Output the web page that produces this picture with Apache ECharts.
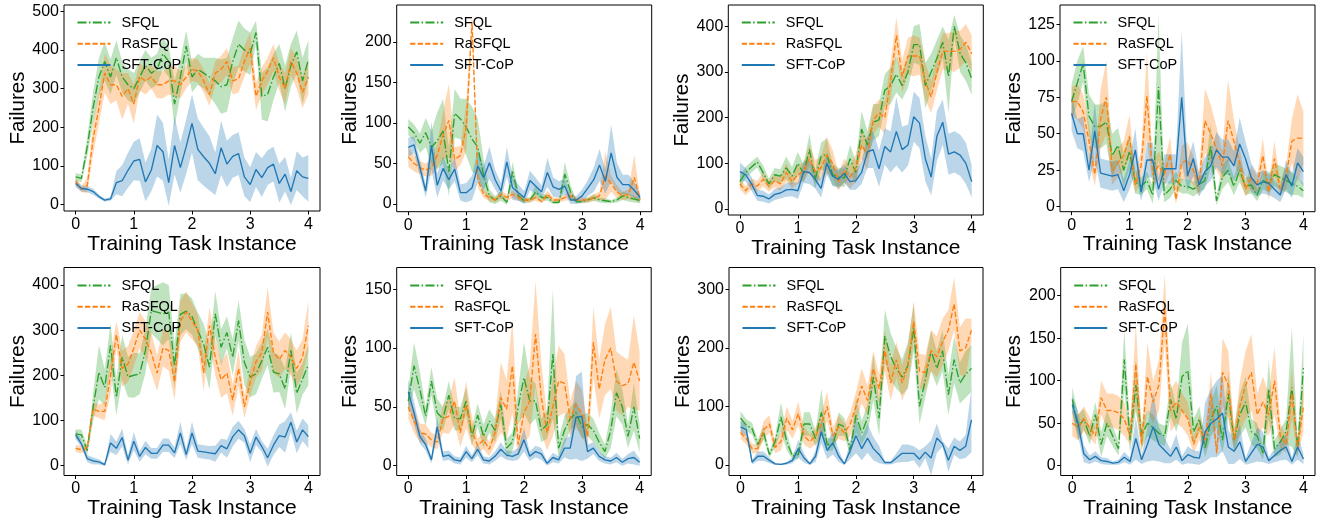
<!DOCTYPE html>
<html>
<head>
<meta charset="utf-8">
<script src="https://cdn.jsdelivr.net/npm/echarts@6/dist/echarts.min.js"></script>
<style>
html,body{margin:0;padding:0;background:#fff;}
#chart{width:1323px;height:522px;}
</style>
</head>
<body>
<div id="chart"></div>
<script>
// ---------- DATA ----------
const xValues = [0,0.1,0.2,0.3,0.4,0.5,0.6,0.7,0.8,0.9,1,1.1,1.2,1.3,1.4,1.5,1.6,1.7,1.8,1.9,2,2.1,2.2,2.3,2.4,2.5,2.6,2.7,2.8,2.9,3,3.1,3.2,3.3,3.4,3.5,3.6,3.7,3.8,3.9,4];
const xTicks = [0,1,2,3,4];
const seriesNames = ['SFQL','RaSFQL','SFT-CoP'];

// Panel 1
const p1Sfql   = [72,68,150,250,330,370,330,380,330,310,300,330,360,340,350,390,370,260,330,410,330,350,340,330,320,305,310,370,415,400,390,445,280,285,330,365,300,360,395,320,375];
const p1SfqlSd = [10,10,25,40,50,50,45,45,40,40,40,40,40,40,40,40,40,60,45,40,40,40,40,50,60,70,70,60,60,55,55,30,60,70,60,50,60,55,55,60,50];
const p1Ra     = [60,40,50,170,250,340,310,310,280,300,260,330,320,330,310,310,320,320,310,330,350,345,320,285,340,350,370,320,325,370,405,280,320,345,380,330,300,370,340,290,330];
const p1RaSd   = [10,8,20,40,40,50,50,40,60,40,50,35,35,30,35,35,35,40,35,30,30,30,30,30,30,35,35,35,35,40,40,35,35,35,35,35,40,35,40,40,45];
const p1Sft    = [55,42,40,34,21,12,15,57,62,89,113,117,59,89,153,137,57,153,96,150,210,143,124,107,80,147,105,125,132,72,52,91,70,96,105,55,79,34,88,72,68];
const p1SftSd  = [10,8,8,8,5,4,5,30,40,45,50,55,50,55,80,75,60,75,65,70,75,80,75,70,55,70,60,55,55,50,45,45,50,45,45,50,45,35,50,50,60];
const p1YTicks = [0,100,200,300,400,500];

// Panel 2
const p2Sfql   = [95,88,75,88,70,78,90,40,112,105,95,80,70,35,10,5,10,2,40,10,4,5,15,8,8,2,2,37,15,3,3,5,8,5,4,3,5,10,8,6,4];
const p2SfqlSd = [10,10,12,18,20,35,40,30,30,25,35,40,35,20,8,5,6,3,12,5,3,3,8,4,4,2,2,15,8,2,2,3,4,3,3,2,3,5,5,4,3];
const p2Ra     = [58,50,45,42,45,60,85,103,55,60,95,225,30,12,8,5,12,8,12,8,5,5,8,3,12,5,5,8,10,5,5,5,8,10,35,25,15,10,12,33,5];
const p2RaSd   = [12,10,8,8,10,15,30,45,15,12,30,10,10,5,4,3,5,4,5,4,3,3,4,2,5,3,3,4,5,3,3,3,4,5,30,10,8,5,6,28,3];
const p2Sft    = [70,73,45,16,72,23,44,30,43,14,14,20,47,32,51,30,16,52,20,14,8,29,22,15,39,21,18,22,5,5,10,20,30,48,28,63,33,24,24,17,8];
const p2SftSd  = [12,10,10,8,30,15,15,12,15,10,12,15,20,15,20,12,10,18,15,10,8,12,10,8,18,12,10,10,5,5,8,10,15,20,15,35,18,12,12,10,5];
const p2YTicks = [0,50,100,150,200];

// Panel 3
const p3Sfql   = [60,80,92,103,80,55,75,72,90,72,100,78,130,65,115,120,75,70,68,110,80,175,140,190,195,260,270,295,270,300,360,360,270,300,330,365,290,400,340,320,285];
const p3SfqlSd = [15,12,12,12,15,12,15,15,25,20,25,20,35,20,30,35,25,20,20,30,25,40,30,40,35,35,40,40,30,35,40,45,50,40,40,35,80,25,40,40,35];
const p3Ra     = [55,40,55,50,65,50,62,55,80,60,75,82,110,82,90,118,100,60,85,70,90,140,120,195,210,200,280,380,290,335,335,335,280,245,300,345,345,345,350,365,340];
const p3RaSd   = [12,10,12,12,15,12,15,15,20,15,20,20,30,25,25,40,30,20,25,25,30,30,35,30,30,35,40,40,35,40,45,40,40,35,40,40,40,45,40,40,40];
const p3Sft    = [82,75,55,30,28,22,32,35,42,43,40,82,80,65,45,100,72,65,78,60,62,80,125,130,88,137,125,170,130,140,202,188,110,70,160,190,120,125,118,100,60];
const p3SftSd  = [20,15,15,12,12,10,12,12,15,15,18,25,25,20,20,25,20,20,20,18,20,25,35,40,40,40,45,75,50,45,55,55,50,40,55,50,45,45,45,45,35];
const p3YTicks = [0,100,200,300,400];

// Panel 4
const p4Sfql   = [72,85,98,62,55,55,58,35,42,25,38,17,14,18,8,82,8,12,18,14,14,12,15,18,42,4,20,25,14,25,14,15,8,18,16,22,20,18,16,14,11];
const p4SfqlSd = [12,15,12,15,15,15,15,15,12,12,12,8,6,6,6,50,5,6,6,5,5,5,5,6,15,3,8,8,6,8,6,6,4,6,6,8,8,8,8,6,5];
const p4Ra     = [72,72,65,45,22,60,75,25,30,35,48,15,28,76,22,28,22,36,5,30,32,25,15,59,50,40,28,59,45,30,12,20,15,35,10,33,12,20,45,47,47];
const p4RaSd   = [10,12,12,12,8,20,25,10,10,10,15,6,10,30,8,10,8,12,3,12,12,10,8,22,20,15,10,28,15,10,5,8,6,12,5,12,5,8,15,30,18];
const p4Sft    = [64,50,50,25,52,23,22,21,22,11,22,39,10,32,32,12,26,26,26,75,21,33,15,24,28,39,34,34,28,43,33,20,15,17,16,12,8,22,14,30,24];
const p4SftSd  = [12,10,12,8,20,10,10,10,10,8,10,15,6,12,12,8,10,10,10,45,10,12,8,10,10,12,12,12,10,18,12,10,8,8,8,6,5,10,8,10,10];
const p4YTicks = [0,25,50,75,100,125];

// Panel 5
const p5Sfql   = [70,68,33,129,207,173,266,151,240,196,200,203,255,343,340,336,340,220,335,342,330,299,269,218,336,262,295,240,321,229,196,203,232,262,207,203,170,255,160,192,223];
const p5SfqlSd = [10,12,10,30,60,40,50,40,50,45,50,45,50,50,60,70,60,50,45,40,40,40,45,50,50,40,35,40,45,50,45,45,40,40,45,40,45,40,45,35,45];
const p5Ra     = [38,35,40,125,120,120,200,290,215,225,260,300,280,250,205,260,255,185,320,340,320,300,205,310,240,190,205,145,215,130,185,230,250,340,250,235,255,240,215,240,310];
const p5RaSd   = [8,8,8,15,15,20,40,30,40,40,40,40,40,45,40,40,45,40,45,45,40,35,40,40,40,40,45,35,40,25,30,35,40,55,45,40,40,40,40,40,55];
const p5Sft    = [68,48,15,10,8,2,50,38,62,12,54,20,40,27,27,45,45,28,72,24,72,32,30,28,26,44,37,64,79,66,27,63,42,17,45,66,63,96,52,79,64];
const p5SftSd  = [10,8,8,8,6,3,20,15,20,10,20,12,15,12,12,15,15,12,25,12,25,15,15,15,18,15,20,22,20,15,20,18,12,20,22,25,35,22,25,25,25];
const p5YTicks = [0,100,200,300,400];

// Panel 6
const p6Sfql   = [55,85,65,42,72,45,40,60,40,40,55,25,43,25,38,30,52,15,20,50,75,55,55,30,35,95,15,30,40,45,33,35,30,20,12,30,62,50,25,50,23];
const p6SfqlSd = [10,20,15,8,12,12,10,12,10,10,12,8,10,10,10,10,12,8,8,15,30,20,15,10,12,55,8,12,10,10,10,10,10,8,6,15,20,15,10,20,12];
const p6Ra     = [50,38,28,27,22,20,40,42,55,28,52,30,17,22,14,28,58,48,85,18,45,55,112,58,28,50,72,70,40,52,45,25,105,65,90,100,72,68,70,88,72];
const p6RaSd   = [10,10,8,8,6,6,12,15,20,12,20,12,6,8,6,10,30,25,40,10,25,30,45,30,15,25,30,25,15,20,20,10,30,25,30,35,25,25,20,40,25];
const p6Sft    = [63,45,25,18,5,33,8,9,5,4,12,6,14,5,4,8,14,9,8,10,22,8,12,10,2,7,5,15,15,41,42,12,15,8,5,4,7,3,6,7,3];
const p6SftSd  = [10,10,6,5,3,8,4,4,3,3,5,3,5,3,3,4,6,4,4,5,10,4,5,5,2,4,3,8,10,35,38,6,5,4,3,3,4,3,4,6,3];
const p6YTicks = [0,50,100,150];

// Panel 7
const p7Sfql   = [80,68,62,35,55,18,40,82,40,15,18,70,70,45,90,35,35,70,65,25,85,55,80,150,80,220,185,165,150,170,235,100,145,195,165,195,120,180,140,155,165];
const p7SfqlSd = [12,10,10,8,12,5,10,25,15,5,8,20,20,12,40,12,10,20,15,10,30,20,25,40,30,45,40,35,30,40,40,30,30,35,30,35,35,40,35,40,40];
const p7Ra     = [55,45,28,28,60,70,30,40,80,60,88,50,40,50,70,100,50,65,55,70,100,135,110,165,130,195,140,180,140,170,245,160,158,195,185,210,230,275,195,200,230];
const p7RaSd   = [10,10,8,8,15,15,10,15,20,15,20,15,12,15,20,25,15,20,15,20,25,30,25,30,25,35,30,30,30,35,35,30,30,35,35,40,35,45,40,50,20];
const p7Sft    = [65,60,5,15,15,8,2,1,3,8,28,12,2,15,57,25,38,15,2,25,50,28,46,28,18,4,4,12,20,20,20,10,22,12,46,36,8,32,25,32,77];
const p7SftSd  = [10,10,4,8,8,5,2,1,2,5,15,8,2,10,20,15,20,10,2,15,30,20,25,20,15,3,3,8,15,15,12,15,10,30,25,5,20,15,15,20,55];
const p7YTicks = [0,100,200,300];

// Panel 8
const p8Sfql   = [78,45,55,35,60,25,50,35,20,125,30,95,35,50,45,38,35,78,55,105,112,40,55,20,55,70,30,85,30,60,75,40,35,15,90,20,28,40,92,20,115];
const p8SfqlSd = [15,15,12,10,15,15,15,12,8,35,15,30,15,15,15,12,12,20,15,40,55,15,15,10,20,25,15,25,15,25,30,15,15,8,35,10,15,15,70,10,40];
const p8Ra     = [50,45,55,45,35,80,65,65,62,55,35,120,25,105,75,95,185,65,75,65,55,25,45,30,85,15,110,95,30,70,95,110,60,75,60,100,35,25,85,20,70];
const p8RaSd   = [15,15,15,12,10,20,20,20,20,20,10,50,10,40,25,30,40,25,25,20,20,10,15,10,25,5,40,40,10,30,40,45,25,30,25,40,15,10,30,8,30];
const p8Sft    = [72,50,14,7,11,6,5,3,4,10,5,32,7,25,46,25,18,11,22,6,13,10,9,40,50,55,62,22,17,28,5,15,25,22,6,12,18,22,5,22,8];
const p8SftSd  = [10,15,10,5,6,4,4,2,3,6,4,25,5,20,40,20,15,8,15,5,10,8,8,35,40,45,45,20,15,20,4,12,20,18,4,8,12,15,4,15,6];
const p8YTicks = [0,50,100,150,200];

// ---------- CONFIG ----------
const panels = [
  {s:[p1Sfql,p1Ra,p1Sft], sd:[p1SfqlSd,p1RaSd,p1SftSd], yMin:-16.2, yMax:516, ticks:p1YTicks},
  {s:[p2Sfql,p2Ra,p2Sft], sd:[p2SfqlSd,p2RaSd,p2SftSd], yMin:-9.5, yMax:245.6, ticks:p2YTicks},
  {s:[p3Sfql,p3Ra,p3Sft], sd:[p3SfqlSd,p3RaSd,p3SftSd], yMin:-13.1, yMax:446.6, ticks:p3YTicks},
  {s:[p4Sfql,p4Ra,p4Sft], sd:[p4SfqlSd,p4RaSd,p4SftSd], yMin:-3.4, yMax:138.2, ticks:p4YTicks},
  {s:[p5Sfql,p5Ra,p5Sft], sd:[p5SfqlSd,p5RaSd,p5SftSd], yMin:-22.2, yMax:438.8, ticks:p5YTicks},
  {s:[p6Sfql,p6Ra,p6Sft], sd:[p6SfqlSd,p6RaSd,p6SftSd], yMin:-8.3, yMax:168.5, ticks:p6YTicks},
  {s:[p7Sfql,p7Ra,p7Sft], sd:[p7SfqlSd,p7RaSd,p7SftSd], yMin:-17.9, yMax:337.2, ticks:p7YTicks},
  {s:[p8Sfql,p8Ra,p8Sft], sd:[p8SfqlSd,p8RaSd,p8SftSd], yMin:-11.5, yMax:233.2, ticks:p8YTicks}
];

// plot boxes: [left, top, width, height]
const boxes = [
  [64, 5, 256, 206], [396.7, 5, 255, 206.7], [728.3, 5, 255, 210], [1060, 5, 255, 206.7],
  [64, 267.5, 256, 208], [396.7, 267.5, 254.5, 208], [729, 267.5, 254, 208], [1060.7, 267.5, 254.3, 208]
];
const legendTops = [15, 278];

const colors = ['#2ca02c','#ff7f0e','#1f77b4'];
const bandColors = ['rgba(44,160,44,0.3)','rgba(255,127,14,0.3)','rgba(31,119,180,0.3)'];
const lineTypes = [[9,2.4,1.5,2.4],[5.2,2.3],'solid'];
const FONT = 'Liberation Sans, Arial, Helvetica, sans-serif';

const grids = [], xAxes = [], yAxes = [], series = [], legends = [];

panels.forEach((p, k) => {
  const row = Math.floor(k / 4);
  const b = boxes[k];
  grids.push({left: b[0], top: b[1], width: b[2], height: b[3],
    show: true, borderColor: '#000', borderWidth: 1, backgroundColor: 'transparent', containLabel: false});
  xAxes.push({
    gridIndex: k, type: 'value', min: -0.2, max: 4.2,
    axisLine: {show: false, onZero: false},
    axisTick: {show: true, length: 3.5, lineStyle: {color: '#000', width: 1}, customValues: xTicks},
    axisLabel: {customValues: xTicks, fontSize: 16, color: '#000', margin: 5.5, fontFamily: FONT},
    splitLine: {show: false},
    name: 'Training Task Instance', nameLocation: 'middle', nameGap: 16,
    nameTextStyle: {fontSize: 21, color: '#000', fontFamily: FONT}
  });
  yAxes.push({
    gridIndex: k, type: 'value', min: p.yMin, max: p.yMax,
    axisLine: {show: false, onZero: false},
    axisTick: {show: true, length: 3.5, lineStyle: {color: '#000', width: 1}, customValues: p.ticks},
    axisLabel: {customValues: p.ticks, fontSize: 16, color: '#000', margin: 5, fontFamily: FONT},
    splitLine: {show: false},
    name: 'Failures', nameLocation: 'middle', nameGap: 35.5, nameRotate: 90,
    nameTextStyle: {fontSize: 20.5, color: '#000', fontFamily: FONT}
  });
  legends.push({
    data: seriesNames, orient: 'vertical', left: b[0] + 12.5, top: legendTops[row],
    padding: 0, itemWidth: 33, itemHeight: 14, itemGap: 6.3,
    itemStyle: {color: 'rgba(0,0,0,0)', borderColor: 'rgba(0,0,0,0)', borderWidth: 0},
    formatter: function (name) { return '{g|}' + name; },
    textStyle: {fontSize: 14.5, color: '#000', fontFamily: FONT,
      rich: {g: {width: 6, fontSize: 14.5}}},
    selectedMode: false, backgroundColor: 'transparent'
  });
  // shaded bands (mean ± spread)
  p.s.forEach((vals, j) => {
    const sd = p.sd[j];
    series.push({
      type: 'custom', name: seriesNames[j] + ' band', xAxisIndex: k, yAxisIndex: k,
      silent: true, z: 1, clip: true,
      data: xValues.map((x, i) => [x, vals[i] - sd[i], vals[i] + sd[i]]),
      encode: {x: 0, y: [1, 2]},
      renderItem: function (params, api) {
        if (params.dataIndex !== 0) return null;
        const pts = [];
        for (let i = 0; i < xValues.length; i++) pts.push(api.coord([xValues[i], vals[i] + sd[i]]));
        for (let i = xValues.length - 1; i >= 0; i--) pts.push(api.coord([xValues[i], vals[i] - sd[i]]));
        return {type: 'polygon', shape: {points: pts}, style: {fill: bandColors[j], stroke: null}};
      }
    });
  });
  // mean lines
  p.s.forEach((vals, j) => {
    series.push({
      type: 'line', name: seriesNames[j], xAxisIndex: k, yAxisIndex: k,
      data: xValues.map((x, i) => [x, vals[i]]),
      symbol: 'none', silent: true, z: 3, animation: false,
      lineStyle: {color: colors[j], width: 1.35, type: lineTypes[j]},
      itemStyle: {color: colors[j]}
    });
  });
});

const chart = echarts.init(document.getElementById('chart'), null, {renderer: 'canvas'});
chart.setOption({
  animation: false,
  backgroundColor: '#fff',
  grid: grids, xAxis: xAxes, yAxis: yAxes, legend: legends, series: series
});
</script>
</body>
</html>
